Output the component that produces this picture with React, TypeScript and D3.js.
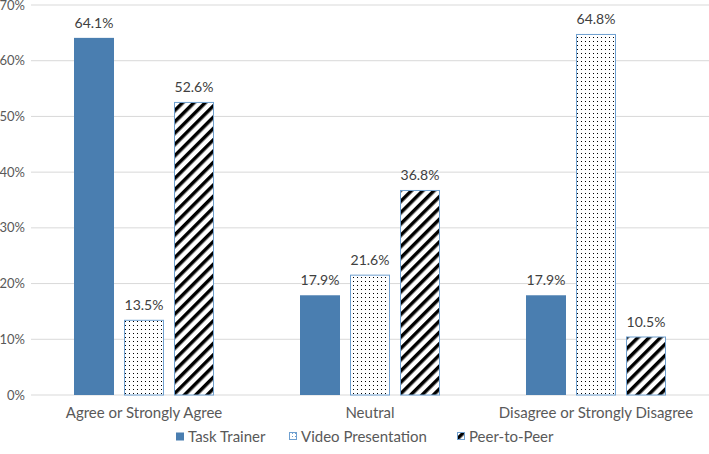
import React from "react";
import * as d3 from "d3";

const categories = ["Agree or Strongly Agree", "Neutral", "Disagree or Strongly Disagree"];
const seriesNames = ["Task Trainer", "Video Presentation", "Peer-to-Peer"];
const taskTrainer = [64.1, 17.9, 17.9];
const videoPresentation = [13.5, 21.6, 64.8];
const peerToPeer = [52.6, 36.8, 10.5];
const yTicks = [0, 10, 20, 30, 40, 50, 60, 70];

const W = 709;
const H = 454;
const FONT = "Lato, 'Open Sans', sans-serif";

export default function App() {
  const series = [taskTrainer, videoPresentation, peerToPeer];
  const x = d3.scaleBand<string>().domain(categories).range([31, 709]).paddingInner(0).paddingOuter(0);
  const inner = d3.scaleBand<string>().domain(seriesNames).range([0, 140]).paddingInner(0.2);
  const y = d3.scaleLinear().domain([0, 70]).range([395, 5]);
  const groupOffset = (x.bandwidth() - 140) / 2;
  const fills = ["#4A7EB0", "url(#dots)", "url(#stripes)"];
  const strokes = ["none", "#6FA0D0", "#6FA0D0"];
  const legendX = [176, 289, 457];

  return (
    <svg width={W} height={H} style={{ position: "absolute", left: 0, top: 0, background: "#fff" }}>
      <defs>
        <pattern id="dots" width={4} height={4} patternUnits="userSpaceOnUse">
          <rect width={4} height={4} fill="#fff" />
          <rect x={1} y={1} width={1} height={1} fill="#000" />
        </pattern>
        <pattern id="stripes" width={8} height={8} patternUnits="userSpaceOnUse" patternTransform="rotate(45)">
          <rect width={8} height={8} fill="#fff" />
          <rect width={3.5} height={8} fill="#000" />
        </pattern>
        <pattern id="dotsL" width={3} height={3} patternUnits="userSpaceOnUse">
          <rect width={3} height={3} fill="#fff" />
          <rect x={1} y={1} width={1} height={1} fill="#6FA0D0" />
        </pattern>
      </defs>
      {yTicks.map((t) => (
        <g key={t}>
          <line x1={31} x2={709} y1={y(t)} y2={y(t)} stroke="#D9D9D9" strokeWidth={1} />
          <text x={25} y={y(t) + 4.5} textAnchor="end" fontFamily={FONT} fontSize={13} fill="#595959">
            {t}%
          </text>
        </g>
      ))}
      {categories.map((c, ci) => (
        <g key={c}>
          {series.map((s, si) => {
            const bx = (x(c) as number) + groupOffset + (inner(seriesNames[si]) as number);
            const bw = inner.bandwidth();
            const top = y(s[ci]);
            return (
              <g key={si}>
                <rect
                  x={bx + (si > 0 ? 0.5 : 0)}
                  y={top + (si > 0 ? 0.5 : 0)}
                  width={bw - (si > 0 ? 1 : 0)}
                  height={y(0) - top - (si > 0 ? 0.5 : 0)}
                  fill={fills[si]}
                  stroke={strokes[si]}
                  strokeWidth={1}
                />
                <text
                  x={bx + bw / 2}
                  y={top - 10}
                  textAnchor="middle"
                  fontFamily={FONT}
                  fontSize={14}
                  fill="#404040"
                >
                  {s[ci].toFixed(1)}%
                </text>
              </g>
            );
          })}
          <text
            x={(x(c) as number) + x.bandwidth() / 2}
            y={417.5}
            textAnchor="middle"
            fontFamily={FONT}
            fontSize={15}
            fill="#595959"
          >
            {c}
          </text>
        </g>
      ))}
      {seriesNames.map((n, i) => (
        <g key={n}>
          <rect
            x={legendX[i] + (i > 0 ? 0.5 : 0)}
            y={432.5}
            width={i > 0 ? 7 : 8}
            height={i > 0 ? 7 : 8}
            fill={i === 1 ? "url(#dotsL)" : fills[i]}
            stroke={strokes[i]}
          />
          <text x={legendX[i] + 12} y={442} fontFamily={FONT} fontSize={15} fill="#595959">
            {n}
          </text>
        </g>
      ))}
    </svg>
  );
}
